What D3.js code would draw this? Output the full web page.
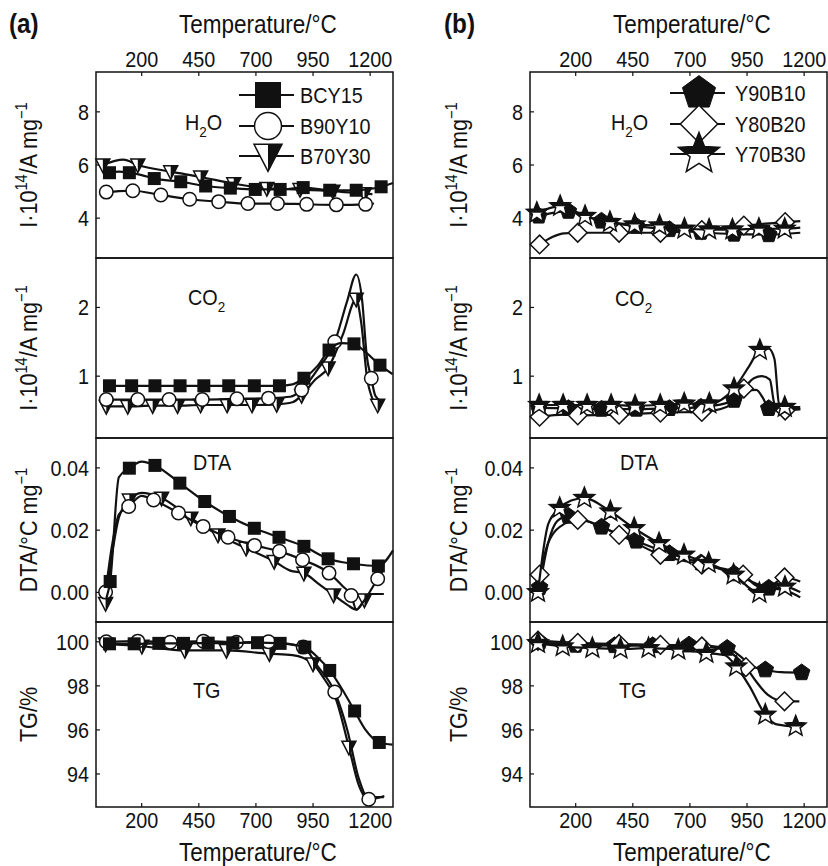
<!DOCTYPE html>
<meta charset="utf-8">
<style>
body { margin: 0; background: #fff; }
svg { font-family: Arial, "Liberation Sans", Helvetica, sans-serif; }
.frame { fill: none; stroke: #111; stroke-width: 1.5px; }
.data-line { fill: none; stroke: #111; stroke-width: 2.2px; }
text { fill: #111; }
</style>
<body>
<script src="https://d3js.org/d3.v7.min.js"></script>
<script>

// temperature ticks shared by both columns
var tempTicks = [200, 450, 700, 950, 1200];

// ---- (a) series: [temperature, value, marker?] ----
var bcy15_h2o = [[59,5.71,1],[100,5.75,0],[146,5.71,1],[200,5.62,0],[255,5.49,1],[371,5.37,1],[480,5.21,1],[588,5.13,1],[697,5.08,1],[806,5.08,1],[907,5.15,1],[1023,5.05,1],[1139,5.05,1],[1248,5.18,1],[1300,5.32,0]];
var b90y10_h2o = [[45,4.98,1],[100,5.02,0],[161,5.03,1],[284,4.87,1],[410,4.71,1],[537,4.62,1],[665,4.55,1],[794,4.55,1],[922,4.52,1],[1052,4.5,1],[1180,4.52,1],[1217,4.55,0]];
var b70y30_h2o = [[30,6.0,1],[120,6.2,0],[183,6.0,1],[327,5.75,1],[458,5.55,1],[603,5.3,1],[748,5.12,1],[893,5.08,1],[1037,5.02,1],[1175,4.92,1],[1210,4.9,0]];

var bcy15_co2 = [[59,0.86,1],[156,0.86,1],[258,0.86,1],[368,0.86,1],[472,0.86,1],[581,0.86,1],[693,0.86,1],[803,0.86,1],[860,0.88,0],[910,0.97,1],[970,1.15,0],[1020,1.38,1],[1070,1.48,0],[1129,1.47,1],[1170,1.38,0],[1243,1.16,1],[1298,1.03,0]];
var b90y10_co2 = [[45,0.66,1],[183,0.66,1],[320,0.66,1],[465,0.66,1],[617,0.67,1],[755,0.68,1],[850,0.7,0],[900,0.8,1],[970,1.1,0],[1045,1.5,1],[1100,2.1,0],[1139,2.48,0],[1165,2.1,0],[1185,1.3,0],[1205,0.97,1],[1222,0.72,0],[1250,0.63,0]];
var b70y30_co2 = [[45,0.56,1],[139,0.56,1],[248,0.57,1],[357,0.57,1],[458,0.58,1],[574,0.58,1],[683,0.58,1],[791,0.59,1],[860,0.62,0],[900,0.72,1],[960,0.95,0],[1016,1.12,1],[1080,1.6,0],[1139,2.12,1],[1160,1.8,0],[1190,0.9,0],[1233,0.58,1],[1250,0.58,0]];

var bcy15_dta = [[45,-0.002,0],[62,0.0035,1],[100,0.037,0],[146,0.0399,1],[200,0.042,0],[258,0.0408,1],[367,0.0351,1],[476,0.0292,1],[584,0.0244,1],[693,0.0206,1],[801,0.0177,1],[910,0.0148,1],[1016,0.0108,1],[1127,0.0092,1],[1236,0.0085,1],[1300,0.0135,0]];
var b90y10_dta = [[42,0.0001,1],[70,0.015,0],[100,0.025,0],[143,0.0276,1],[200,0.031,0],[252,0.0297,1],[361,0.0255,1],[469,0.0212,1],[578,0.0177,1],[694,0.0151,1],[803,0.0132,1],[904,0.0105,1],[1020,0.0062,1],[1080,0.002,0],[1117,-0.001,1],[1140,-0.0055,0],[1170,-0.003,0],[1233,0.0044,1],[1255,0.007,0]];
var b70y30_dta = [[42,-0.0035,1],[70,0.012,0],[100,0.024,0],[146,0.0297,1],[200,0.032,0],[287,0.0303,1],[415,0.0239,1],[534,0.0185,1],[657,0.0142,1],[780,0.0100,1],[850,0.007,0],[910,0.0062,1],[970,0.003,0],[1040,-0.0008,1],[1100,-0.004,0],[1140,-0.0055,0],[1175,-0.0024,1],[1200,-0.0005,0],[1260,-0.0005,0]];

var bcy15_tg = [[59,99.91,1],[167,99.91,1],[275,99.93,1],[383,99.93,1],[491,99.94,1],[599,99.95,1],[707,99.96,1],[806,99.93,1],[870,99.85,0],[914,99.76,1],[970,99.3,0],[1023,98.7,1],[1080,97.8,0],[1132,96.86,1],[1180,96.0,0],[1240,95.43,1],[1298,95.33,0]];
var b90y10_tg = [[45,100.0,1],[183,100.03,1],[325,99.98,1],[470,100.03,1],[615,99.98,1],[755,100.0,1],[850,99.9,0],[907,99.76,1],[970,98.9,0],[1045,97.72,1],[1100,96.0,0],[1150,93.8,0],[1194,92.85,1],[1262,93.0,0]];
var b70y30_tg = [[42,99.91,1],[201,99.8,1],[389,99.61,1],[571,99.61,1],[759,99.46,1],[860,99.4,0],[950,99.0,1],[1000,98.3,0],[1050,97.4,0],[1107,95.22,1],[1150,93.5,0],[1180,92.95,0],[1260,92.95,0]];

// ---- (b) series ----
var y90b10_h2o = [[38,4.08,1],[100,4.2,0],[168,4.26,1],[230,4.1,0],[313,3.89,1],[465,3.70,1],[610,3.57,1],[748,3.47,1],[893,3.4,1],[1045,3.38,1],[1183,3.45,0]];
var y80b20_h2o = [[42,3.01,1],[100,3.3,0],[150,3.43,0],[209,3.45,1],[390,3.45,1],[571,3.45,1],[752,3.55,1],[936,3.72,1],[1117,3.85,1],[1183,3.89,0]];
var y70b30_h2o = [[30,4.2,1],[132,4.45,1],[241,4.08,1],[350,3.85,1],[458,3.76,1],[567,3.72,1],[676,3.6,1],[784,3.57,1],[886,3.57,1],[1002,3.6,1],[1115,3.6,1],[1183,3.64,0]];

var y90b10_co2 = [[38,0.54,1],[168,0.53,1],[313,0.52,1],[465,0.52,1],[610,0.53,1],[748,0.55,1],[850,0.6,0],[893,0.65,1],[950,0.78,0],[990,0.8,0],[1020,0.68,0],[1045,0.53,1],[1100,0.52,0],[1183,0.52,0]];
var y80b20_co2 = [[42,0.41,1],[150,0.44,0],[209,0.43,1],[390,0.44,1],[571,0.47,1],[752,0.48,1],[860,0.55,0],[936,0.82,1],[980,0.97,0],[1015,1.0,0],[1050,0.95,0],[1070,0.6,0],[1117,0.5,1],[1183,0.52,0]];
var y70b30_co2 = [[40,0.58,1],[145,0.58,1],[250,0.58,1],[355,0.58,1],[460,0.57,1],[570,0.58,1],[675,0.6,1],[785,0.6,1],[893,0.82,1],[960,1.15,0],[1006,1.38,1],[1045,1.4,0],[1070,1.25,0],[1090,0.6,0],[1115,0.55,1],[1183,0.55,0]];

var y90b10_dta = [[42,0.0016,1],[80,0.016,0],[120,0.023,0],[168,0.0245,1],[230,0.0235,0],[313,0.021,1],[465,0.0165,1],[610,0.0125,1],[748,0.0095,1],[893,0.006,1],[1045,0.0014,1],[1110,0.0008,0],[1183,-0.0016,0]];
var y80b20_dta = [[42,0.0057,1],[80,0.016,0],[150,0.022,0],[209,0.0233,1],[390,0.0185,1],[571,0.0121,1],[752,0.0089,1],[933,0.0057,1],[1000,0.002,0],[1060,0.0025,0],[1114,0.0048,1],[1183,0.0035,0]];
var y70b30_dta = [[35,0.0001,1],[80,0.022,0],[130,0.0271,1],[180,0.0295,0],[238,0.0303,1],[352,0.026,1],[456,0.0206,1],[565,0.0158,1],[674,0.0121,1],[782,0.0094,1],[891,0.0057,1],[1004,-0.0002,1],[1060,0.001,0],[1116,0.0018,1],[1183,0.0001,0]];

var y90b10_tg = [[42,99.99,1],[200,99.85,1],[370,99.83,1],[537,99.83,1],[696,99.86,1],[863,99.71,1],[920,99.35,0],[970,98.9,0],[1030,98.73,1],[1100,98.62,0],[1189,98.6,1]];
var y80b20_tg = [[35,100.05,1],[209,99.95,1],[390,99.9,1],[571,99.86,1],[752,99.79,1],[860,99.6,0],[945,98.85,1],[990,98.2,0],[1040,97.6,0],[1114,97.3,1],[1179,97.3,0]];
var y70b30_tg = [[35,99.94,1],[143,99.79,1],[273,99.71,1],[396,99.68,1],[519,99.71,1],[649,99.64,1],[772,99.49,1],[850,99.4,0],[903,98.88,1],[960,98.0,0],[1030,96.69,1],[1080,96.25,0],[1163,96.16,1],[1185,96.2,0]];

var W = 828, H = 866;
var squeeze = 0.9; // the figure's lettering is a little condensed

var svg = d3.select("body").append("svg")
    .attr("width", W)
    .attr("height", H);

var defs = svg.append("defs");
defs.append("clipPath").attr("id", "topHalf")
    .append("rect").attr("x", -60).attr("y", -60).attr("width", 120).attr("height", 60);
defs.append("clipPath").attr("id", "rightHalf")
    .append("rect").attr("x", 0).attr("y", -60).attr("width", 60).attr("height", 120);

// rows (panels) shared by both columns
var rows = [
    {top: 72,  bottom: 258, domain: [2.5, 9.5],        ticks: [4, 6, 8],          fmt: d3.format("d"),
     label: [["I·10"], ["14", "sup"], ["/A mg"], ["−1", "sup"]], tag: [["H"], ["2", "sub"], ["O"]]},
    {top: 258, bottom: 438, domain: [0.1, 2.72],       ticks: [1, 2],             fmt: d3.format("d"),
     label: [["I·10"], ["14", "sup"], ["/A mg"], ["−1", "sup"]], tag: [["CO"], ["2", "sub"]]},
    {top: 438, bottom: 622, domain: [-0.0095, 0.0496], ticks: [0, 0.02, 0.04],    fmt: d3.format(".2f"),
     label: [["DTA/°C mg"], ["−1", "sup"]], tag: [["DTA"]]},
    {top: 622, bottom: 807, domain: [92.5, 100.9],     ticks: [94, 96, 98, 100],  fmt: d3.format("d"),
     label: [["TG/%"]], tag: [["TG"]]}
];

var cols = [
    {left: 96, right: 393, name: "(a)", nameX: 9, labelX: 37,
     tagX: [89, 92, 97, 97], tagY: [130, 305, 470, 698],
     legendX: 268, legendRows: [95, 126, 156], legendText: 300,
     series: [
        {name: "BCY15",  shape: "square", data: [bcy15_h2o, bcy15_co2, bcy15_dta, bcy15_tg]},
        {name: "B90Y10", shape: "circle", data: [b90y10_h2o, b90y10_co2, b90y10_dta, b90y10_tg]},
        {name: "B70Y30", shape: "tri",    data: [b70y30_h2o, b70y30_co2, b70y30_dta, b70y30_tg]}
     ],
     drawOrder: [2, 1, 0]},
    {left: 530, right: 827, name: "(b)", nameX: 444, labelX: 467,
     tagX: [81, 85, 90, 89], tagY: [130, 306, 470, 698],
     legendX: 699, legendRows: [93, 124, 154], legendText: 735,
     series: [
        {name: "Y90B10", shape: "pent", data: [y90b10_h2o, y90b10_co2, y90b10_dta, y90b10_tg]},
        {name: "Y80B20", shape: "diam", data: [y80b20_h2o, y80b20_co2, y80b20_dta, y80b20_tg]},
        {name: "Y70B30", shape: "star", data: [y70b30_h2o, y70b30_co2, y70b30_dta, y70b30_tg]}
     ],
     drawOrder: [0, 1, 2]}
];

var markSize = {square: 13, circle: 13.5, tri: 14, pent: 15, diam: 17, star: 18};

function polyPath(pts) {
    return "M" + pts.map(function(p) { return p[0].toFixed(2) + "," + p[1].toFixed(2); }).join("L") + "Z";
}

function marker(g, shape, x, y, s) {
    var m = g.append("g").attr("transform", "translate(" + x + "," + y + ")");
    if (shape == "square") {
        m.append("rect").attr("x", -s / 2).attr("y", -s / 2).attr("width", s).attr("height", s)
            .attr("fill", "#111");
    } else if (shape == "circle") {
        m.append("circle").attr("r", s / 2).attr("fill", "#fff")
            .attr("stroke", "#111").attr("stroke-width", 1.5);
    } else if (shape == "tri") {
        var t = [[-s / 2, -s * 0.42], [s / 2, -s * 0.42], [0, s * 0.55]];
        m.append("path").attr("d", polyPath(t)).attr("fill", "#fff")
            .attr("stroke", "#111").attr("stroke-width", 1.5);
        m.append("path").attr("d", polyPath(t)).attr("fill", "#111")
            .attr("clip-path", "url(#rightHalf)");
    } else if (shape == "pent") {
        var p = d3.range(5).map(function(k) {
            var a = (-90 + 72 * k) * Math.PI / 180;
            return [Math.cos(a) * s * 0.58, Math.sin(a) * s * 0.58];
        });
        m.append("path").attr("d", polyPath(p)).attr("fill", "#111")
            .attr("stroke", "#111").attr("stroke-width", 1);
    } else if (shape == "diam") {
        var d = [[0, -s * 0.55], [s * 0.55, 0], [0, s * 0.55], [-s * 0.55, 0]];
        m.append("path").attr("d", polyPath(d)).attr("fill", "#fff")
            .attr("stroke", "#111").attr("stroke-width", 1.5);
    } else if (shape == "star") {
        var st = d3.range(10).map(function(k) {
            var a = (-90 + 36 * k) * Math.PI / 180;
            var r = (k % 2 == 0) ? s * 0.6 : s * 0.26;
            return [Math.cos(a) * r, Math.sin(a) * r];
        });
        m.append("path").attr("d", polyPath(st)).attr("fill", "#fff")
            .attr("stroke", "#111").attr("stroke-width", 1.5);
        m.append("path").attr("d", polyPath(st)).attr("fill", "#111")
            .attr("clip-path", "url(#topHalf)");
    }
}

// a text node placed at (x, y), slightly condensed
function label(g, x, y, size, rotate) {
    return g.append("text")
        .attr("transform", "translate(" + x + "," + y + ")" + (rotate ? " rotate(-90)" : "") + " scale(" + squeeze + ",1)")
        .attr("font-size", size);
}

// text with sub/superscript parts
function richText(t, parts, size) {
    var shift = 0;
    parts.forEach(function(p) {
        var target = 0;
        if (p[1] == "sup") target = -0.42 * size;
        if (p[1] == "sub") target = 0.32 * size;
        var ts = t.append("tspan").attr("dy", target - shift).text(p[0]);
        if (p[1]) ts.attr("font-size", size * 0.68);
        shift = target;
    });
}

cols.forEach(function(col) {
    var x = d3.scaleLinear().domain([0, 1300]).range([col.left, col.right]);
    var g = svg.append("g");

    // panel letter
    label(g, col.nameX, 33, 27).attr("font-weight", "bold").text(col.name);

    // temperature titles
    label(g, x(700) + 2, 33, 25).attr("text-anchor", "middle").text("Temperature/°C");
    label(g, x(700) + 2, 861, 25).attr("text-anchor", "middle").text("Temperature/°C");

    // top & bottom tick labels and marks
    tempTicks.forEach(function(t) {
        label(g, x(t), 67, 22).attr("text-anchor", "middle").text(t);
        label(g, x(t), 828, 22).attr("text-anchor", "middle").text(t);
        g.append("line").attr("x1", x(t)).attr("x2", x(t)).attr("y1", rows[0].top).attr("y2", rows[0].top + 4)
            .attr("stroke", "#111").attr("stroke-width", 1.2);
        g.append("line").attr("x1", x(t)).attr("x2", x(t)).attr("y1", rows[3].bottom).attr("y2", rows[3].bottom - 4)
            .attr("stroke", "#111").attr("stroke-width", 1.2);
    });

    rows.forEach(function(row, ri) {
        var y = d3.scaleLinear().domain(row.domain).range([row.bottom, row.top]);

        // y ticks
        row.ticks.forEach(function(v) {
            g.append("line").attr("x1", col.left).attr("x2", col.left + 4)
                .attr("y1", y(v)).attr("y2", y(v)).attr("stroke", "#111").attr("stroke-width", 1.2);
            label(g, col.left - 7, y(v), 22).attr("dy", "0.36em")
                .attr("text-anchor", "end").text(row.fmt(v));
        });

        // y label
        var lab = label(g, col.labelX, (row.top + row.bottom) / 2, 24, true).attr("text-anchor", "middle");
        richText(lab, row.label, 24);

        // panel tag
        var tag = label(g, col.left + col.tagX[ri], col.tagY[ri], 22);
        richText(tag, row.tag, 22);

        var line = d3.line()
            .x(function(d) { return x(d[0]); })
            .y(function(d) { return y(d[1]); })
            .curve(d3.curveMonotoneX);

        col.drawOrder.forEach(function(si) {
            var s = col.series[si];
            var data = s.data[ri];
            g.append("path").datum(data).attr("class", "data-line").attr("d", line);
            data.filter(function(d) { return d[2]; }).forEach(function(d) {
                marker(g, s.shape, x(d[0]), y(d[1]), markSize[s.shape]);
            });
        });

        // panel frame
        g.append("rect").attr("class", "frame")
            .attr("x", col.left).attr("y", row.top)
            .attr("width", col.right - col.left).attr("height", row.bottom - row.top);
    });

    // legend
    col.series.forEach(function(s, i) {
        var ly = col.legendRows[i];
        g.append("line").attr("x1", col.legendX - 29).attr("x2", col.legendX + 26)
            .attr("y1", ly).attr("y2", ly).attr("stroke", "#111").attr("stroke-width", 2);
        marker(g, s.shape, col.legendX, ly, markSize[s.shape] * 2);
        label(g, col.legendText, ly, 22).attr("dy", "0.36em").text(s.name);
    });
});

</script>
</body>
